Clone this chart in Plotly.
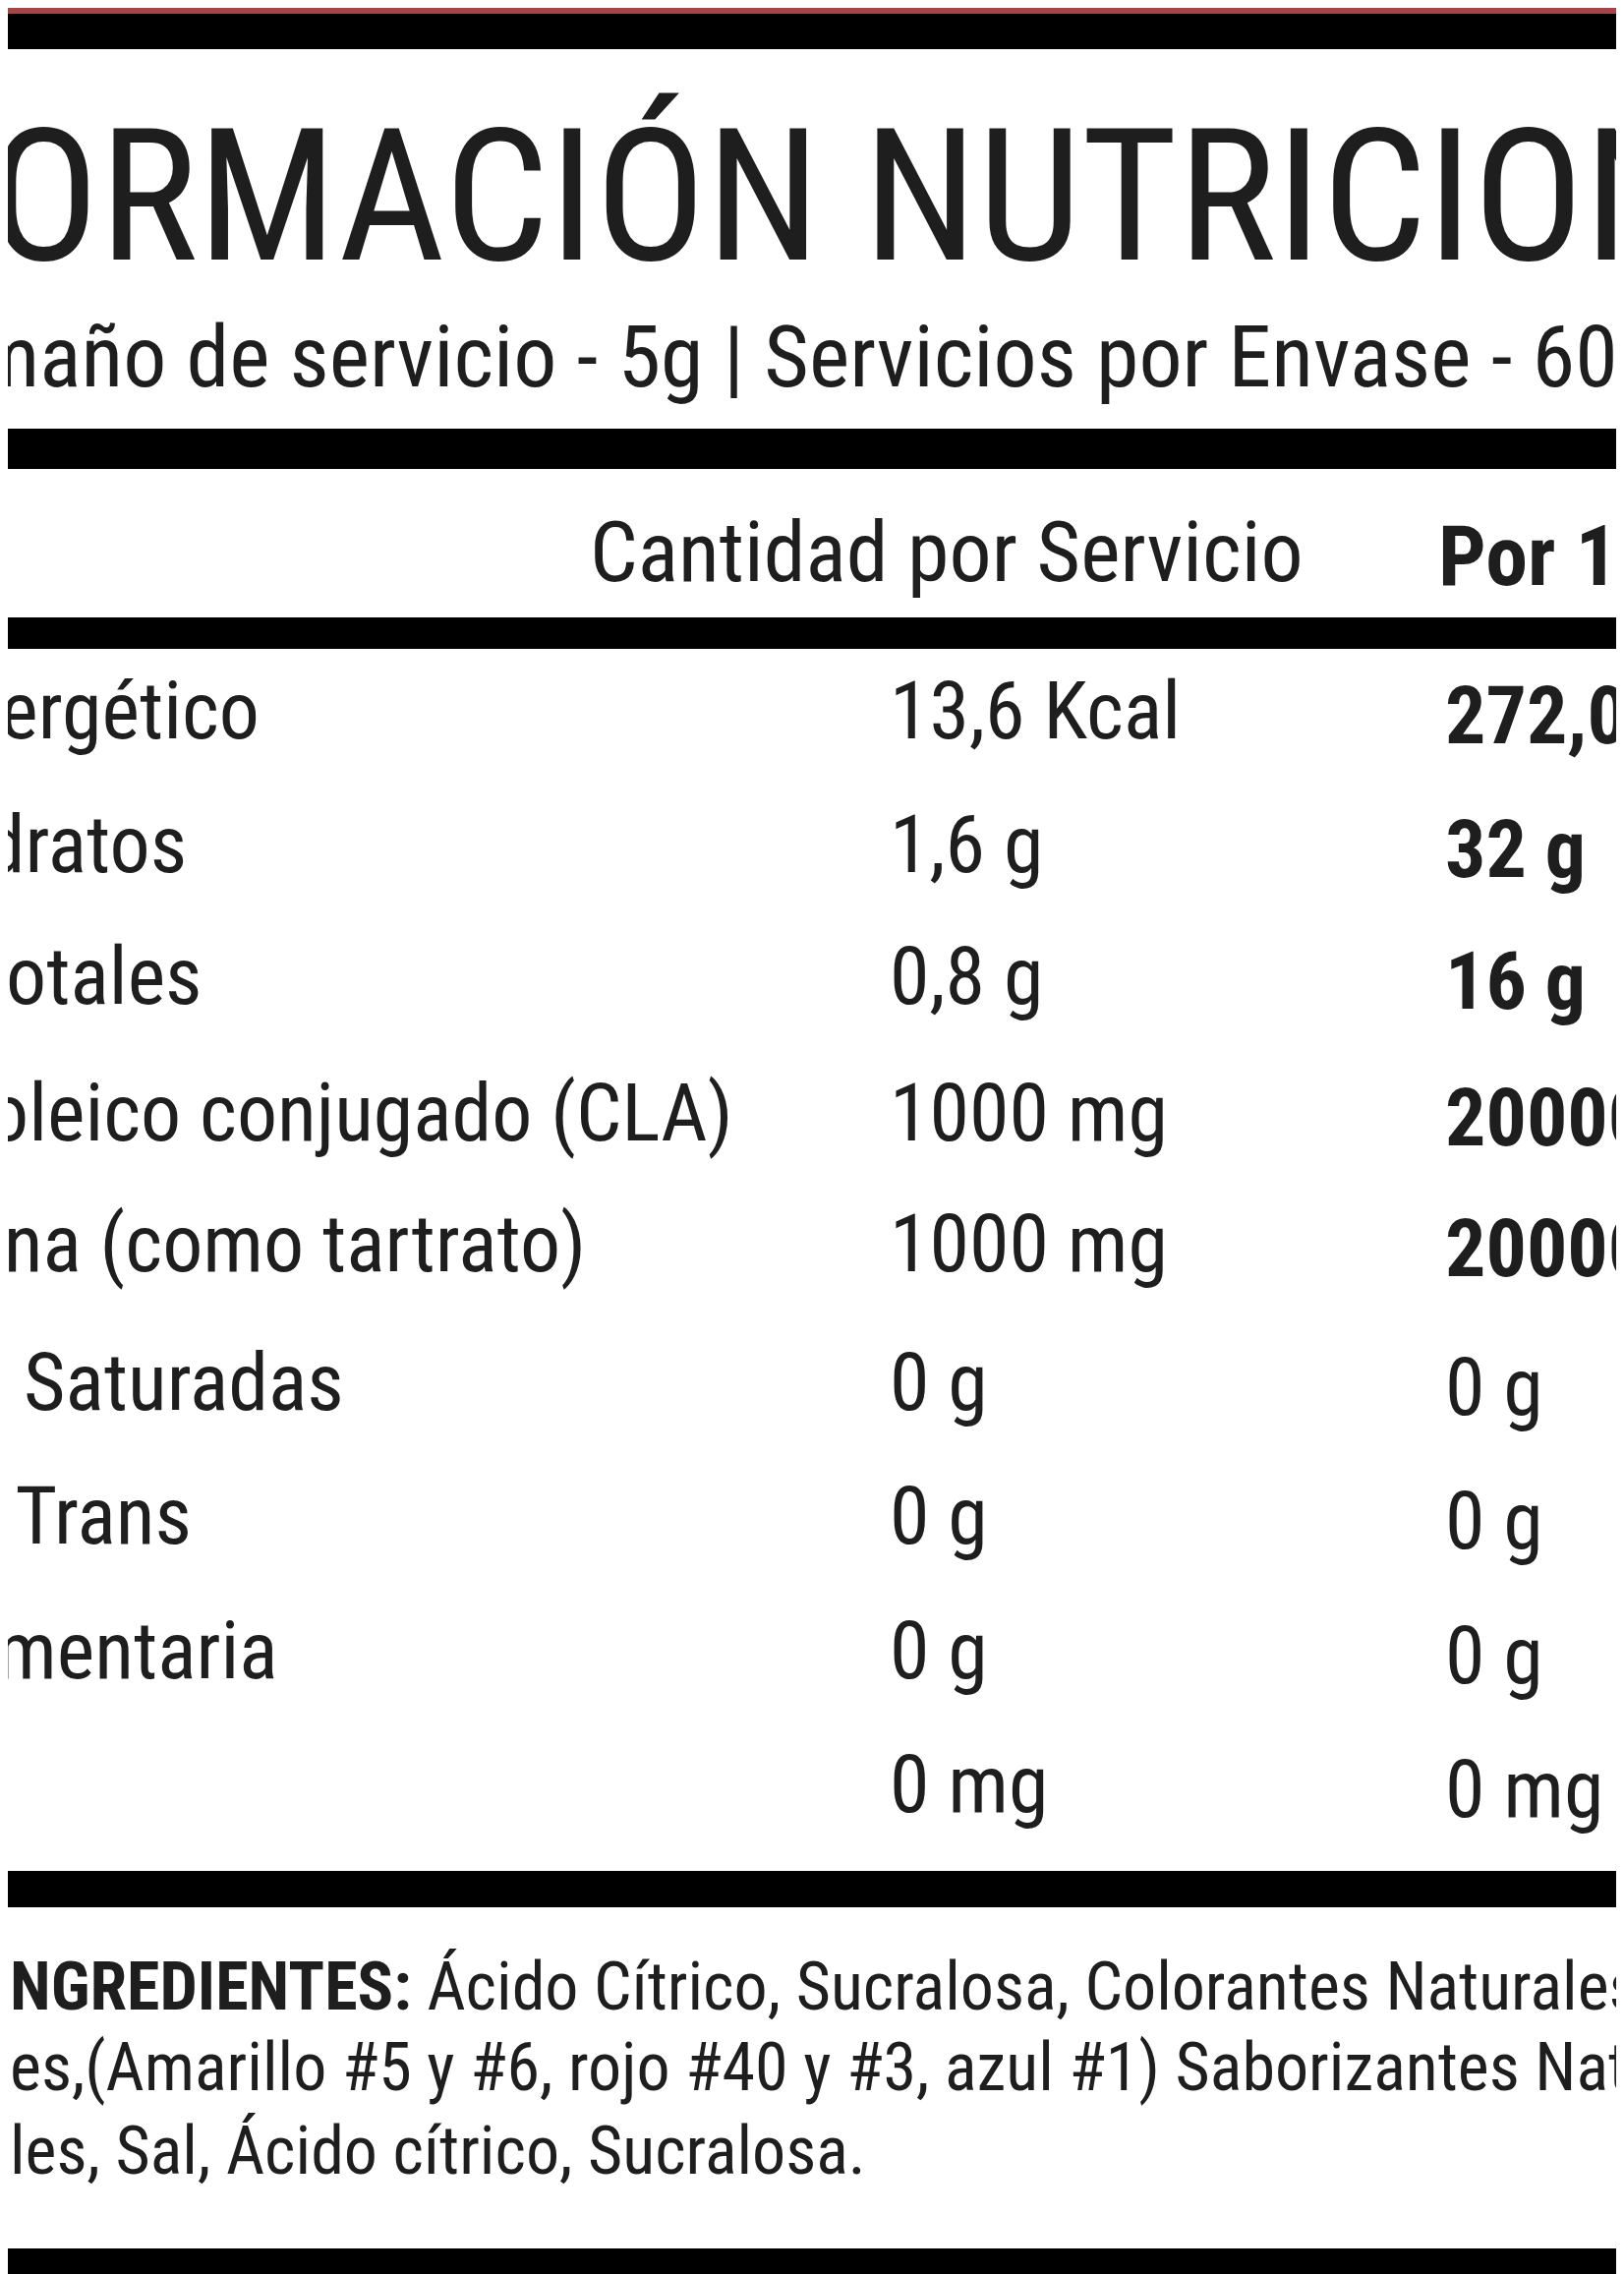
import plotly.graph_objects as go

W, H = 1652, 2313

titulo = "INFORMACIÓN NUTRICIONAL"
subtitulo = "Tamaño de servicio - 5g | Servicios por Envase - 60"
encabezado = ["Cantidad por Servicio", "Por 100g"]
nutrientes = ["Valor energético", "Carbohidratos", "Grasas Totales",
              "Ácido linoleico conjugado (CLA)", "L-Carnitina (como tartrato)",
              "Grasas Saturadas", "Grasas Trans", "Fibra alimentaria", "Sodio"]
por_servicio = ["13,6 Kcal", "1,6 g", "0,8 g", "1000 mg", "1000 mg", "0 g", "0 g", "0 g", "0 mg"]
por_100g = ["272,0 Kcal", "32 g", "16 g", "20000 mg", "20000 mg", "0 g", "0 g", "0 g", "0 mg"]
negrita_100g = [True, True, True, True, True, False, False, False, False]
ingredientes = ["<b>NGREDIENTES:</b> Ácido Cítrico, Sucralosa, Colorantes Naturales,",
                "es,(Amarillo #5 y #6, rojo #40 y #3, azul #1) Saborizantes Naturales,",
                "les, Sal, Ácido cítrico, Sucralosa."]

FONT = "Liberation Sans Narrow, Roboto Condensed, Arial Narrow, Liberation Sans, sans-serif"
INK = "#1e1e1e"

# posiciones (pixeles)
fila_y = [715, 851, 985, 1124, 1257, 1398, 1534, 1671, 1807]
fila_fin = [258, 184, 199, 740, 590, 344, 189, 277, -10]

def py(y):
    return 1 - y / H

def px(x):
    return x / W

fig = go.Figure()
anns = []

def txt(x, y, s, size, anchor="left", color=INK):
    anns.append(dict(x=px(x), y=py(y), xref="paper", yref="paper", text=s,
                     showarrow=False, xanchor=anchor, yanchor="middle",
                     font=dict(family=FONT, size=size, color=color)))

txt(822, 192, titulo, 188, "center")
txt(1640, 354, subtitulo, 88, "right")
txt(1320, 553, encabezado[0], 86, "right")
txt(1453, 557, "<b>" + encabezado[1] + "</b>", 86)
for i in range(len(nutrientes)):
    txt(fila_fin[i], fila_y[i], nutrientes[i], 82, "right")
    txt(895, fila_y[i], por_servicio[i], 82)
    v = "<b>" + por_100g[i] + "</b>" if negrita_100g[i] else por_100g[i]
    txt(1460, fila_y[i] + 5, v, 82)
for j, line in enumerate(ingredientes):
    txt(0, [2013, 2095, 2180][j], line, 68)

shapes = []
def bar(y0, y1, color="black"):
    shapes.append(dict(type="rect", xref="paper", yref="paper", x0=-0.02, x1=1.02,
                       y0=py(y1), y1=py(y0), fillcolor=color, line_width=0, layer="below"))

bar(0, 6, "#a04848")
bar(6, 42)
bar(428, 469)
bar(620, 652)
bar(1895, 1932)
bar(2279, 2313)

fig.update_layout(width=W, height=H, margin=dict(l=0, r=0, t=0, b=0),
                  paper_bgcolor="white", plot_bgcolor="white",
                  xaxis=dict(visible=False), yaxis=dict(visible=False),
                  annotations=anns, shapes=shapes, showlegend=False)
fig.write_html("out.html")
